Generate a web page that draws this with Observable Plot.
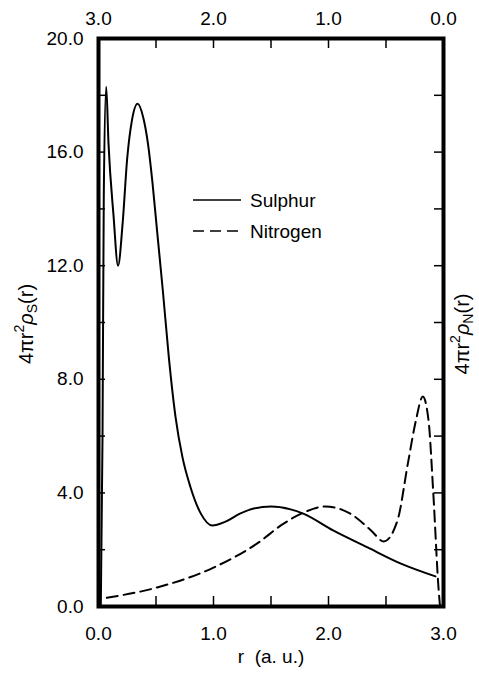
<!DOCTYPE html>
<html><head><meta charset="utf-8">
<script src="https://cdn.jsdelivr.net/npm/d3@7"></script>
<script src="https://cdn.jsdelivr.net/npm/@observablehq/plot@0.6"></script>
<style>body{margin:0;background:#fff} #chart{position:relative;width:479px;height:675px}</style>
</head><body><div id="chart"></div>
<script>
// Sulphur: r (bottom axis, a.u.) and 4πr²ρS(r)
const sulphurR = [0.02, 0.035, 0.046, 0.067, 0.087, 0.13, 0.17, 0.21, 0.25, 0.29, 0.34, 0.39, 0.43, 0.47, 0.51, 0.56, 0.611, 0.67, 0.73, 0.80, 0.89, 0.99, 1.1, 1.23, 1.35, 1.5, 1.67, 1.78, 2.04, 2.34, 2.63, 2.93];
const sulphurV = [0.0, 6.0, 14.5, 18.3, 16.3, 13.8, 12.0, 13.5, 15.8, 17.1, 17.7, 17.2, 16.3, 14.9, 13.2, 11.1, 8.8, 6.67, 5.26, 4.2, 3.27, 2.85, 2.98, 3.27, 3.45, 3.52, 3.42, 3.27, 2.68, 2.08, 1.51, 1.06];
// Nitrogen: r (top axis, reversed, a.u.) and 4πr²ρN(r)
const nitrogenR = [0.03, 0.04, 0.09, 0.13, 0.18, 0.24, 0.31, 0.40, 0.52, 0.63, 0.81, 1.03, 1.22, 1.39, 1.62, 2.0, 2.49, 2.97];
const nitrogenV = [0.0, 0.46, 4.08, 6.55, 7.39, 6.55, 5.03, 3.03, 2.29, 2.68, 3.27, 3.52, 3.3, 2.92, 2.22, 1.37, 0.67, 0.28];

const bottomTicks = [0, 1, 2, 3];
const bottomTickLabels = ["0.0", "1.0", "2.0", "3.0"];
const topTickLabels = ["3.0", "2.0", "1.0", "0.0"];
const yTicks = [0, 4, 8, 12, 16, 20];
const yTickLabels = ["0.0", "4.0", "8.0", "12.0", "16.0", "20.0"];
const minorX = [0.5, 1, 1.5, 2, 2.5];
const minorY = [2, 4, 6, 8, 10, 12, 14, 16, 18];
const seriesNames = ["Sulphur", "Nitrogen"];
const xLabel = "r  (a. u.)";

const rMax = 3;
const sulphur = sulphurR.map((r, i) => ({r, v: sulphurV[i]}));
const nitrogen = nitrogenR.map((r, i) => ({r, v: nitrogenV[i]}));

const W = 479, H = 675, mL = 98, mR = 36, mT = 38, mB = 69;
const fw = W - mL - mR, fh = H - mT - mB;
const font = "'Liberation Sans', Arial, sans-serif";
const fs = 19;
const plot = Plot.plot({
  width: W, height: H,
  marginLeft: mL, marginRight: mR, marginTop: mT, marginBottom: mB,
  style: {fontFamily: font, fontSize: fs + "px", color: "#000", background: "#fff", overflow: "visible"},
  x: {domain: [0, 3]},
  y: {domain: [0, 20]},
  marks: [
    Plot.axisX({anchor: "bottom", ticks: bottomTicks, tickSize: 0, tickPadding: 20, tickFormat: d => bottomTickLabels[bottomTicks.indexOf(d)], label: null}),
    Plot.axisX({anchor: "top", ticks: bottomTicks, tickSize: 0, tickPadding: 14, tickFormat: d => topTickLabels[bottomTicks.indexOf(d)], label: null}),
    Plot.axisY({anchor: "left", ticks: yTicks, tickSize: 0, tickPadding: 15, tickFormat: d => yTickLabels[yTicks.indexOf(d)], label: null}),
    // inward tick marks
    Plot.tickX(minorX, {x: d => d, insetTop: fh - 10, stroke: "#000", strokeWidth: 1.5}),
    Plot.tickX(minorX, {x: d => d, insetBottom: fh - 10, stroke: "#000", strokeWidth: 1.5}),
    Plot.tickY(minorY, {y: d => d, insetRight: fw - 7, stroke: "#000", strokeWidth: 1.5}),
    Plot.tickY(minorY, {y: d => d, insetLeft: fw - 9, stroke: "#000", strokeWidth: 1.5}),
    Plot.line(sulphur, {x: "r", y: "v", curve: "monotone-x", stroke: "#000", strokeWidth: 2}),
    Plot.line(nitrogen, {x: d => rMax - d.r, y: "v", curve: "monotone-x", stroke: "#000", strokeWidth: 2, strokeDasharray: "11,6"}),
    Plot.text([xLabel], {frameAnchor: "bottom", dy: 56, fontSize: fs}),
    Plot.frame({stroke: "#000", strokeWidth: 4})
  ]
});
document.getElementById("chart").appendChild(plot);

const svg = d3.select(plot);
function yLabel(x, y, sub) {
  const t = svg.append("text")
    .attr("transform", `translate(${x},${y}) rotate(-90)`)
    .attr("text-anchor", "middle")
    .attr("dominant-baseline", "middle")
    .attr("font-family", font).attr("font-size", 20).attr("fill", "#000");
  t.append("tspan").text("4πr");
  t.append("tspan").attr("font-size", 14).attr("dy", -8).text("2");
  t.append("tspan").attr("dy", 8).attr("font-style", "italic").text("ρ");
  t.append("tspan").attr("font-size", 14).attr("dy", 5).text(sub);
  t.append("tspan").attr("dy", -5).text("(r)");
}
yLabel(28, 324, "S");
yLabel(464, 334, "N");

// legend
const lg = svg.append("g").attr("font-family", font).attr("font-size", fs).attr("fill", "#000").attr("text-anchor", "start");
[[200, null], [231, "11,6"]].forEach(([y, dash], i) => {
  lg.append("line").attr("x1", 193).attr("x2", 241).attr("y1", y).attr("y2", y)
    .attr("stroke", "#000").attr("stroke-width", 1.5).attr("stroke-dasharray", dash);
  lg.append("text").attr("x", 250).attr("y", y).attr("dy", "0.35em").attr("text-anchor", "start").text(seriesNames[i]);
});
</script>
</body></html>
